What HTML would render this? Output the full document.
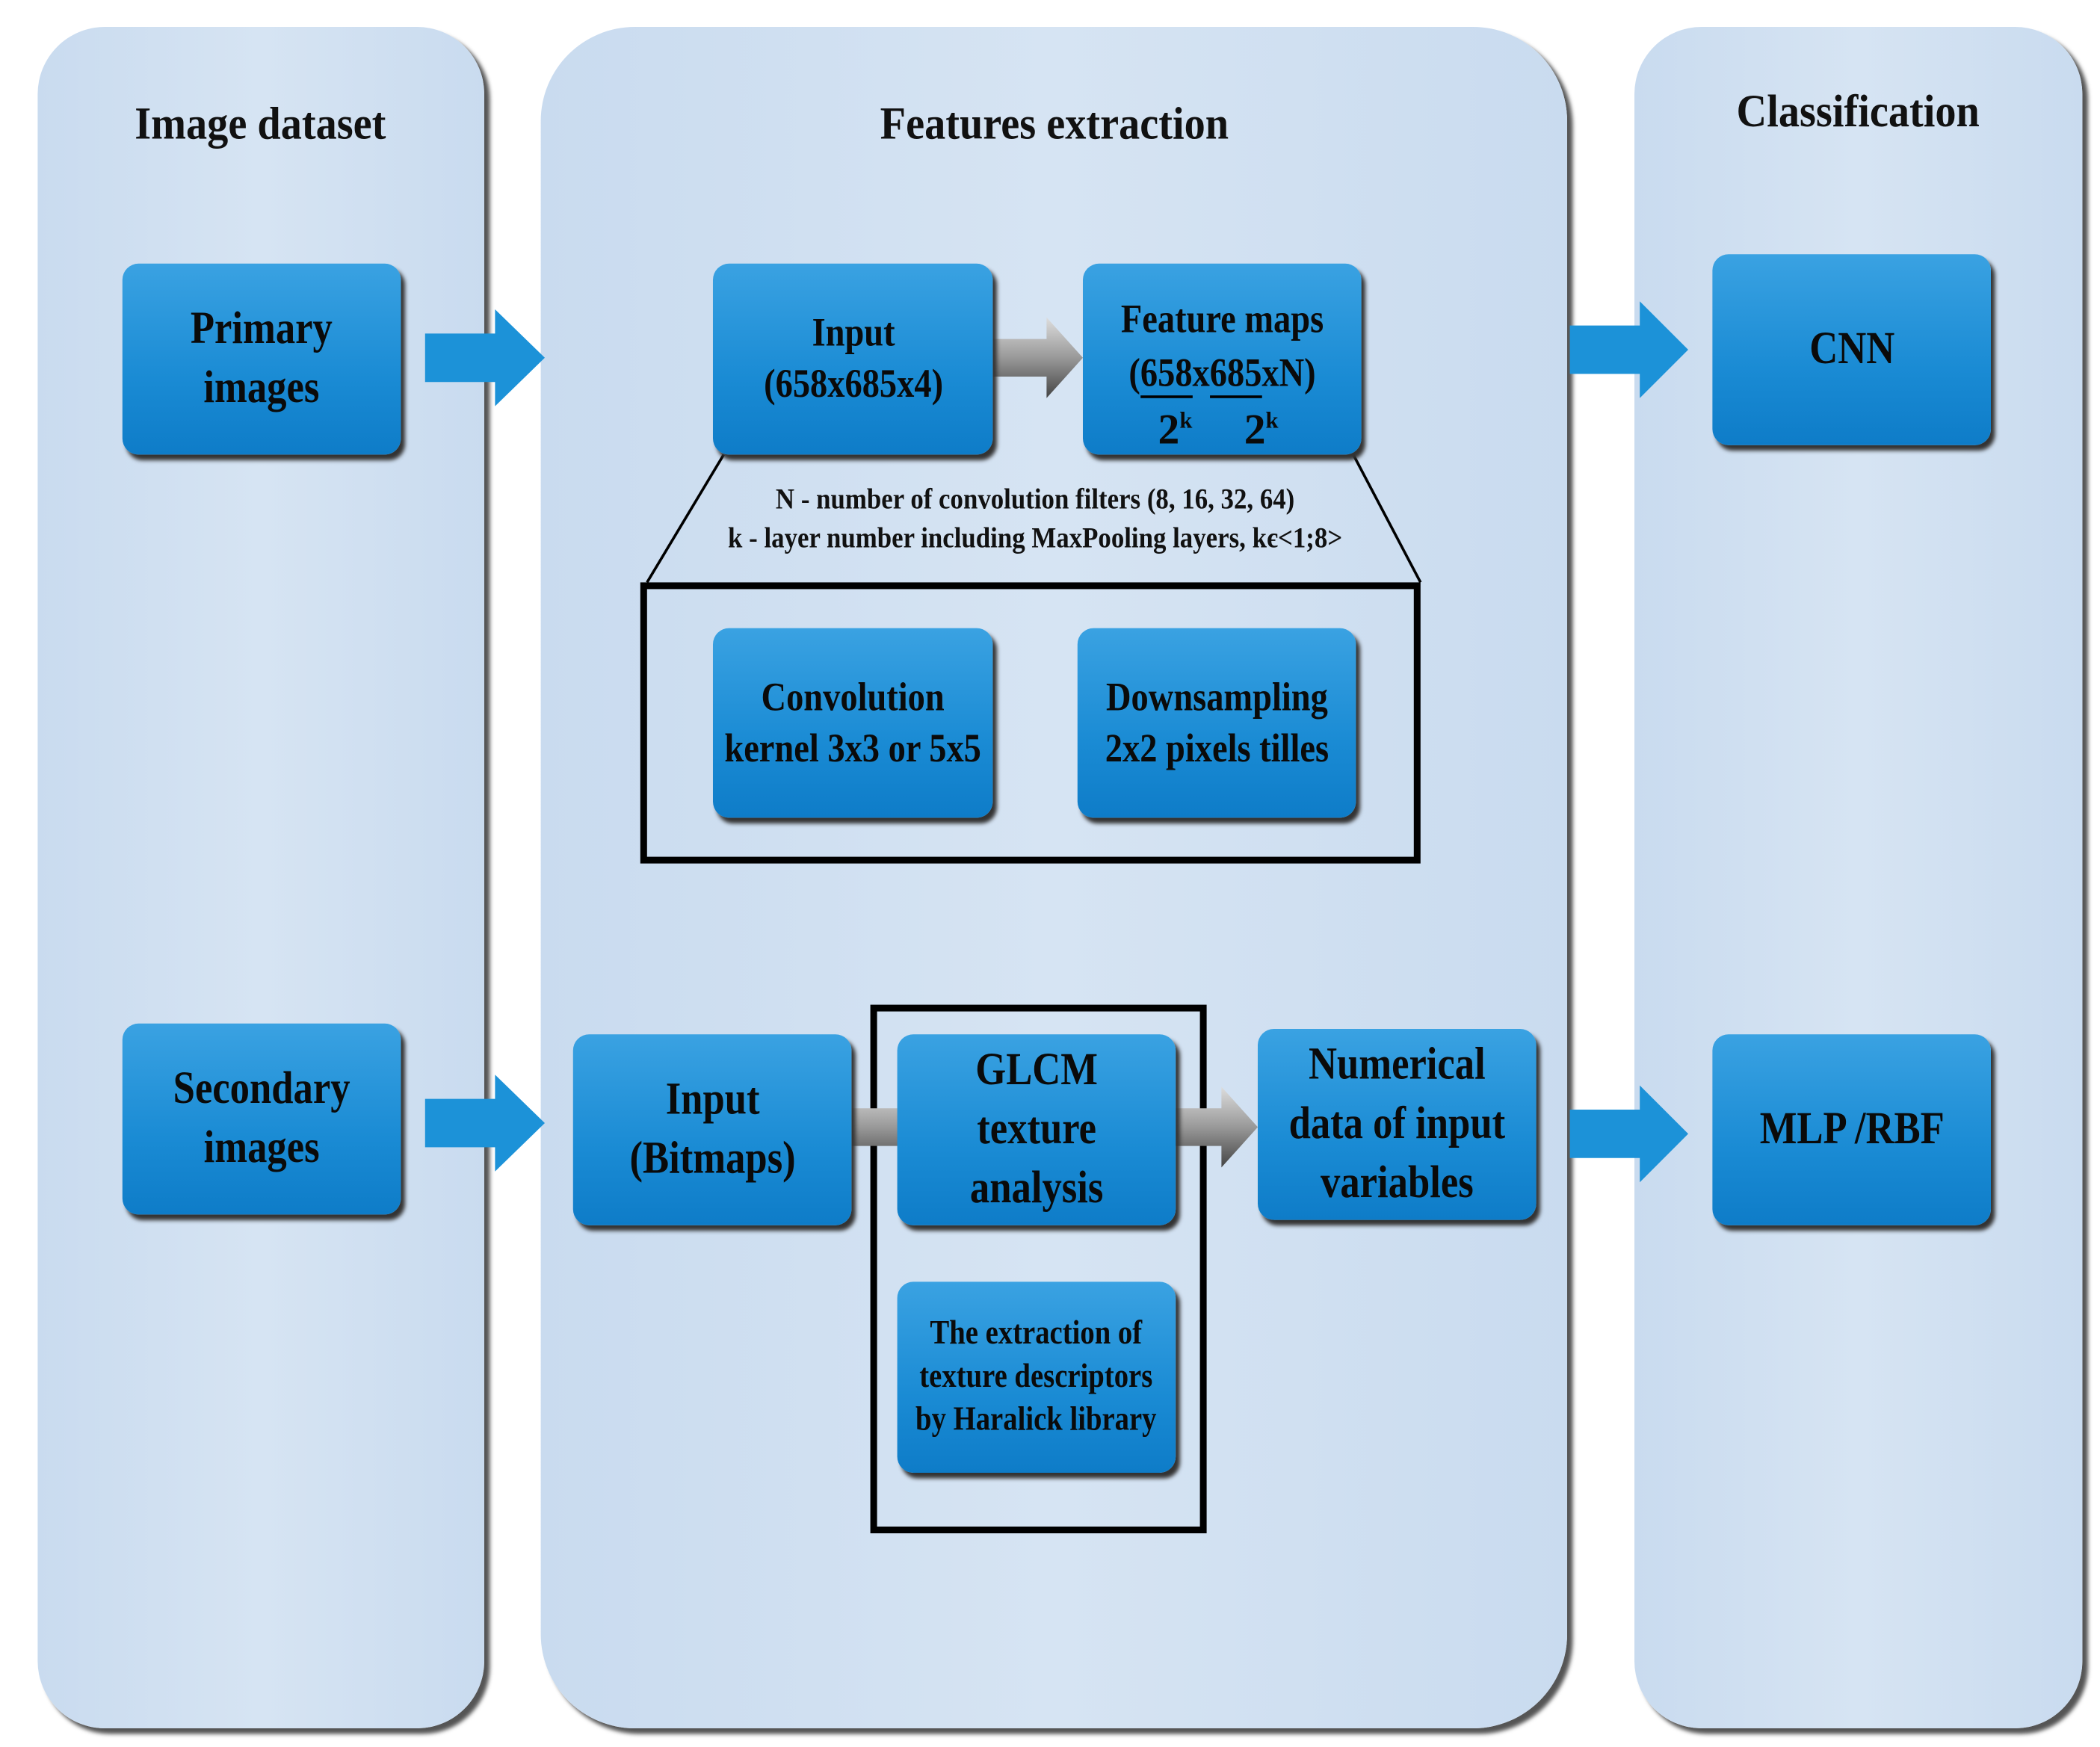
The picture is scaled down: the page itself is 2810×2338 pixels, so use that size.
<!DOCTYPE html>
<html><head><meta charset="utf-8"><style>
html,body{margin:0;padding:0;background:#fff;}
#wrap{width:1561px;height:1299px;position:relative;transform:scale(1.8);transform-origin:0 0;font-family:"Liberation Serif",serif;}
.panel{position:absolute;background:linear-gradient(90deg,#c9dbef,#d6e4f3 50%,#c9dbef);box-shadow:4px 4px 3px #555;}
.title{position:absolute;font-weight:bold;font-size:34px;text-align:center;color:#111;}
.box{position:absolute;background:linear-gradient(180deg,#3aa2e2,#1a8bd4 60%,#0e7cc8);border-radius:12px;box-shadow:3px 4px 3px #333;display:flex;align-items:center;justify-content:center;text-align:center;font-weight:bold;color:#0a0a0a;font-size:34px;line-height:44px;white-space:nowrap;}
.box>span{display:inline-block;transform:scaleX(0.86);}
.sm{font-size:25px;line-height:32px;}
.md{font-size:30px;line-height:38px;}
.rect{position:absolute;border:5px solid #000;box-sizing:border-box;}
svg{position:absolute;left:0;top:0;}
</style></head><body><div id="wrap">
<div class="panel" style="left:28px;top:20px;width:332px;height:1265px;border-radius:50px;"></div>
<div class="panel" style="left:402px;top:20px;width:763px;height:1265px;border-radius:70px;"></div>
<div class="panel" style="left:1215px;top:20px;width:333px;height:1265px;border-radius:50px;"></div>
<div class="title" style="left:28px;top:74px;width:332px;"><span style="display:inline-block;transform:scaleX(0.92)">Image dataset</span></div>
<div class="title" style="left:402px;top:74px;width:763px;"><span style="display:inline-block;transform:scaleX(0.92)">Features extraction</span></div>
<div class="title" style="left:1215px;top:65px;width:333px;"><span style="display:inline-block;transform:scaleX(0.92)">Classification</span></div>

<div class="rect" style="left:476px;top:433px;width:580px;height:209px;"></div>
<div class="rect" style="left:647px;top:747px;width:250px;height:393px;"></div>

<svg width="1561" height="1299">
<defs><linearGradient id="g" x1="0" y1="0" x2="0" y2="1"><stop offset="0" stop-color="#ddd"/><stop offset="0.5" stop-color="#999"/><stop offset="1" stop-color="#444"/></linearGradient></defs>
<line x1="538" y1="338" x2="481" y2="433" stroke="#000" stroke-width="2"/>
<line x1="1006" y1="338" x2="1056" y2="433" stroke="#000" stroke-width="2"/>
<g fill="#1c92d8">
<polygon points="316,248 368,248 368,230 405,266 368,302 368,284 316,284"/>
<polygon points="1167,242 1219,242 1219,224 1255,260 1219,296 1219,278 1167,278"/>
<polygon points="316,817 368,817 368,799 405,835 368,871 368,853 316,853"/>
<polygon points="1167,825 1219,825 1219,807 1255,843 1219,879 1219,861 1167,861"/>
</g>
<g fill="url(#g)">
<polygon points="738,252 778,252 778,236 805,266 778,296 778,280 738,280"/>
<polygon points="633,824 673,824 673,808 700,838 673,868 673,852 633,852"/>
<polygon points="870,824 908,824 908,808 935,838 908,868 908,852 870,852"/>
</g>
</svg>

<div class="box" style="left:91px;top:196px;width:207px;height:142px;"><span>Primary<br>images</span></div>
<div class="box md" style="left:530px;top:196px;width:208px;height:142px;"><span>Input<br>(658x685x4)</span></div>
<div class="box md" style="left:805px;top:196px;width:207px;height:142px;align-items:flex-start;"><div style="margin-top:22px;line-height:40px;position:relative;"><span style="display:inline-block;transform:scaleX(0.86);">Feature maps<br>(<span style="border-bottom:2px solid #000;">658</span>x<span style="border-bottom:2px solid #000;">685</span>xN)</span><div style="position:absolute;left:40px;top:80px;font-size:32px;line-height:30px;">2<sup style="font-size:17px;">k</sup></div><div style="position:absolute;left:104px;top:80px;font-size:32px;line-height:30px;">2<sup style="font-size:17px;">k</sup></div></div></div>
<div class="box" style="left:1273px;top:189px;width:207px;height:142px;"><span>CNN</span></div>
<div class="box md" style="left:530px;top:467px;width:208px;height:141px;"><span>Convolution<br>kernel 3x3 or 5x5</span></div>
<div class="box md" style="left:801px;top:467px;width:207px;height:141px;"><span>Downsampling<br>2x2 pixels tilles</span></div>
<div class="box" style="left:91px;top:761px;width:207px;height:142px;"><span>Secondary<br>images</span></div>
<div class="box" style="left:426px;top:769px;width:207px;height:142px;"><span>Input<br>(Bitmaps)</span></div>
<div class="box" style="left:667px;top:769px;width:207px;height:142px;"><span>GLCM<br>texture<br>analysis</span></div>
<div class="box" style="left:935px;top:765px;width:207px;height:142px;"><span>Numerical<br>data of input<br>variables</span></div>
<div class="box" style="left:1273px;top:769px;width:207px;height:142px;"><span>MLP /RBF</span></div>
<div class="box sm" style="left:667px;top:953px;width:207px;height:142px;"><span>The extraction of<br>texture descriptors<br>by Haralick library</span></div>

<div style="position:absolute;left:470px;top:356px;width:600px;text-align:center;font-size:22px;line-height:29px;font-weight:bold;color:#111;white-space:nowrap;"><span style="display:inline-block;transform:scaleX(0.88);">N - number of convolution filters (8, 16, 32, 64)<br>k - layer number including MaxPooling layers, k&#1108;&lt;1;8&gt;</span></div>
</div></body></html>
